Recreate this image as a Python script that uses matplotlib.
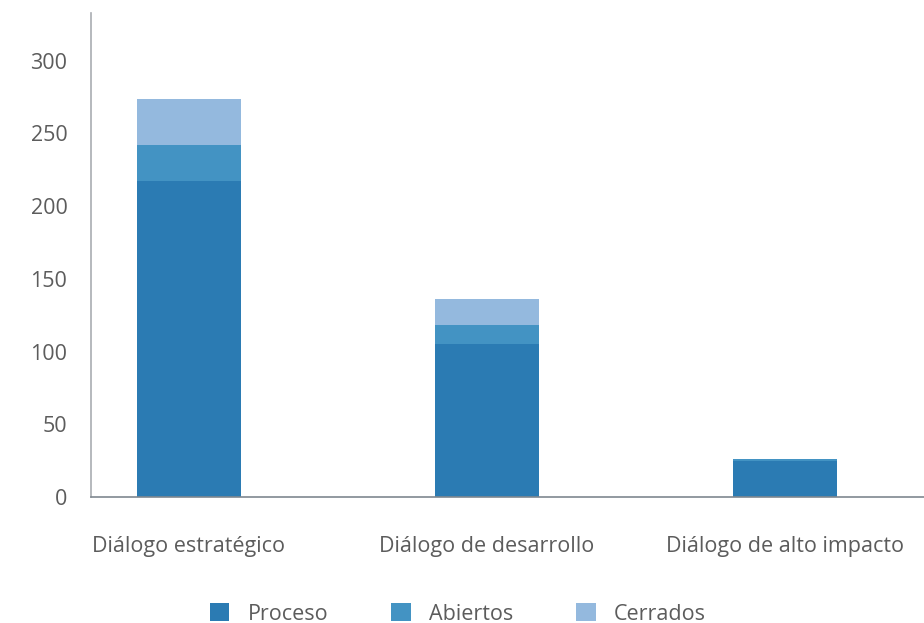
import numpy as np
import matplotlib.pyplot as plt
from matplotlib.patches import Patch

categories = ['Diálogo estratégico', 'Diálogo de desarrollo', 'Diálogo de alto impacto']
proceso = [217, 105, 25]
abiertos = [25, 13, 1]
cerrados = [32, 18, 0]
series_names = ['Proceso', 'Abiertos', 'Cerrados']
colors = ['#2b7bb3', '#4393c3', '#94b9de']
yticks = [0, 50, 100, 150, 200, 250, 300]

plt.rcParams['font.family'] = ['Open Sans', 'DejaVu Sans']
txt_color = '#5c5c5c'
fs = 15.5

fig = plt.figure(figsize=(9.24, 6.23), dpi=100)
ax = fig.add_axes([91/924, (623-497)/623, 1-91/924, (497-12.7)/623])

x = np.arange(len(categories))
w = 0.349
p = np.array(proceso)
a = np.array(abiertos)
c = np.array(cerrados)
ax.bar(x, p, w, color=colors[0], linewidth=0)
ax.bar(x, a, w, bottom=p, color=colors[1], linewidth=0)
ax.bar(x, c, w, bottom=p+a, color=colors[2], linewidth=0)

ax.set_xlim(-0.328, 2.467)
ax.set_ylim(0, 333)
ax.set_yticks(yticks)
ax.set_yticklabels([str(v) for v in yticks], fontsize=fs, color=txt_color)
ax.set_xticks(x)
ax.set_xticklabels(categories, fontsize=fs, color=txt_color)
ax.tick_params(axis='y', length=0, pad=17)
ax.tick_params(axis='x', length=0, pad=28)

for s in ['top', 'right']:
    ax.spines[s].set_visible(False)
ax.spines['left'].set_color('#a9adb2')
ax.spines['bottom'].set_color('#7f8890')
ax.spines['left'].set_linewidth(1.2)
ax.spines['bottom'].set_linewidth(1.2)

handles = [Patch(facecolor=col, edgecolor='none') for col in colors]
leg = fig.legend(handles, series_names, loc='center', bbox_to_anchor=(458/924, (623-614)/623),
                 ncol=3, frameon=False, fontsize=fs, handlelength=0.9, handleheight=0.9,
                 handletextpad=0.85, columnspacing=2.93)
for t in leg.get_texts():
    t.set_color(txt_color)

fig.savefig('out.png', dpi=100)
